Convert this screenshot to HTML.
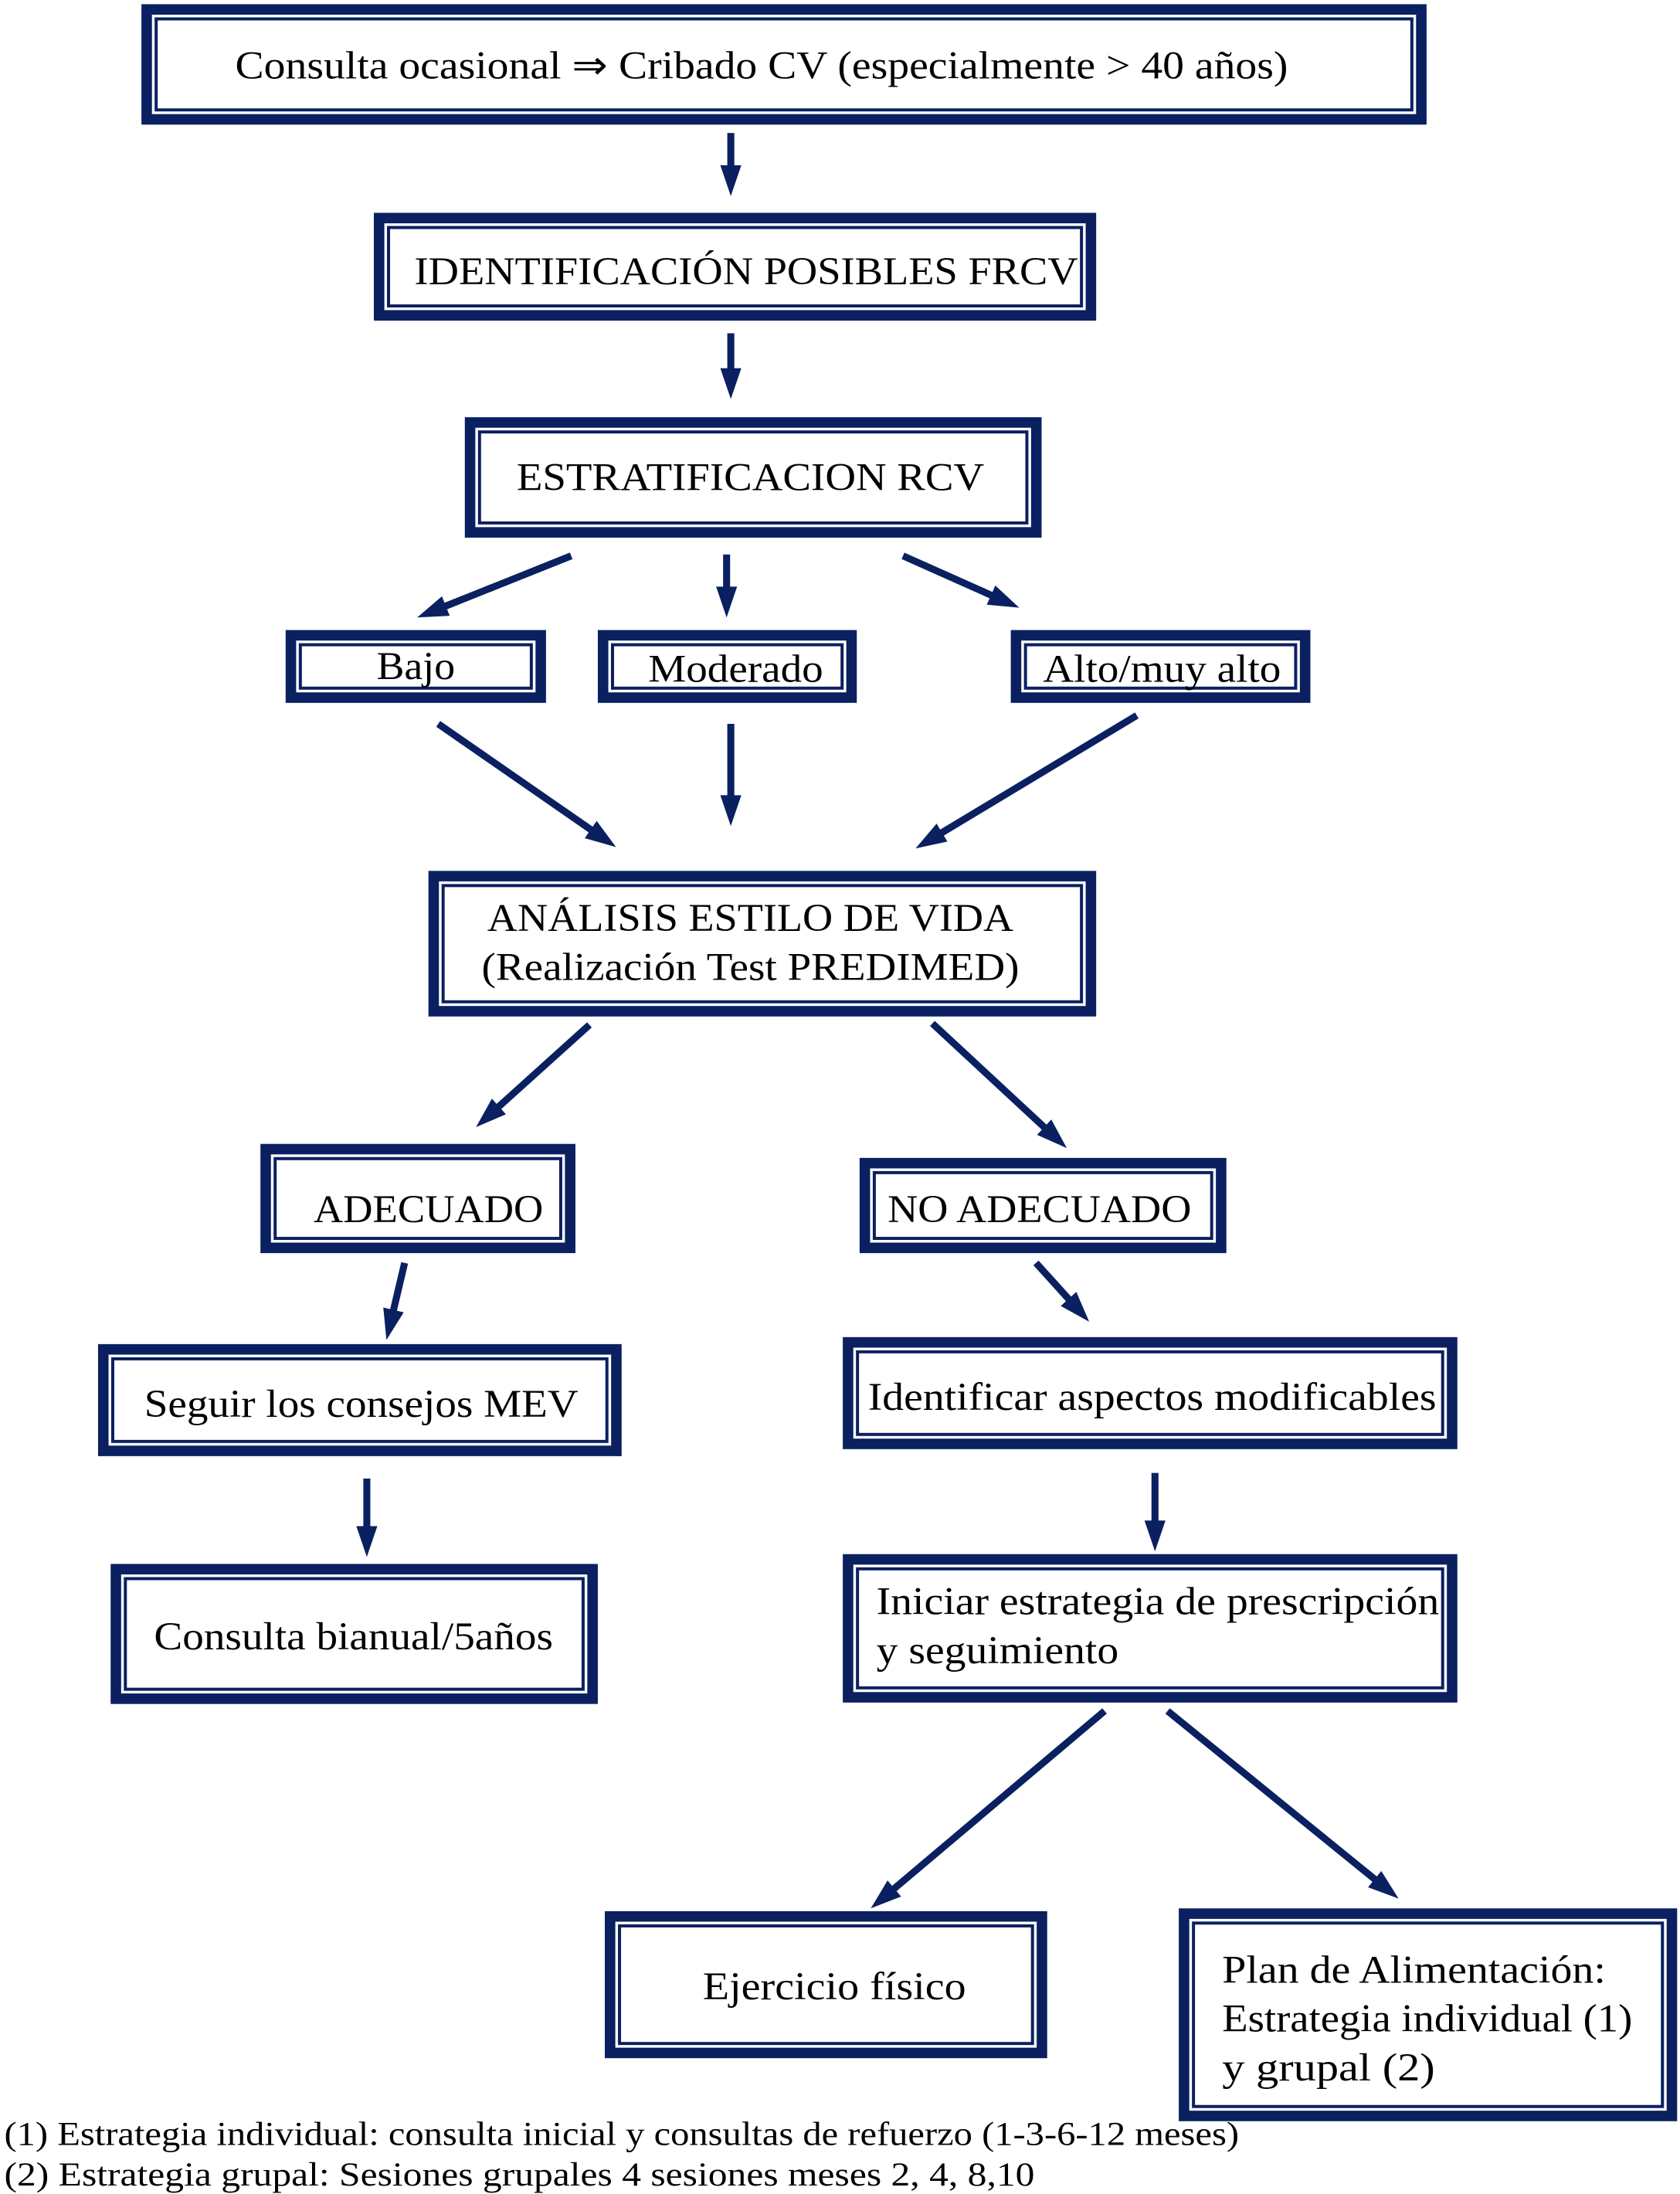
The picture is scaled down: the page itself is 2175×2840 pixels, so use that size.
<!DOCTYPE html>
<html><head><meta charset="utf-8"><style>
html,body{margin:0;padding:0;background:#fff;}
svg{display:block;}
text{font-family:"Liberation Serif","Times New Roman",serif;fill:#000;}
</style></head><body>
<svg id="s" xmlns="http://www.w3.org/2000/svg" width="2175" height="2840" viewBox="0 0 1200 1567">
<g id="boxes" fill="none" stroke="#0a2060"></g>
<g id="arrows"></g>
<g font-size="28" font-family="Liberation Serif, serif" lengthAdjust="spacingAndGlyphs">
<text x="168" y="56" textLength="752" lengthAdjust="spacingAndGlyphs">Consulta ocasional ⇒ Cribado CV (especialmente &gt; 40 años)</text>
<text x="296" y="203" textLength="474" lengthAdjust="spacingAndGlyphs">IDENTIFICACIÓN  POSIBLES FRCV</text>
<text x="369" y="350" textLength="334" lengthAdjust="spacingAndGlyphs">ESTRATIFICACION  RCV</text>
<text x="269" y="485" textLength="56" lengthAdjust="spacingAndGlyphs">Bajo</text>
<text x="463" y="487" textLength="125" lengthAdjust="spacingAndGlyphs">Moderado</text>
<text x="745" y="487" textLength="170" lengthAdjust="spacingAndGlyphs">Alto/muy alto</text>
<text x="348" y="665" textLength="376" lengthAdjust="spacingAndGlyphs">ANÁLISIS  ESTILO DE VIDA</text>
<text x="344" y="700" textLength="384" lengthAdjust="spacingAndGlyphs">(Realización Test PREDIMED)</text>
<text x="224" y="873" textLength="164" lengthAdjust="spacingAndGlyphs">ADECUADO</text>
<text x="634" y="873" textLength="217" lengthAdjust="spacingAndGlyphs">NO ADECUADO</text>
<text x="103" y="1012" textLength="310" lengthAdjust="spacingAndGlyphs">Seguir los consejos MEV</text>
<text x="620" y="1007" textLength="406" lengthAdjust="spacingAndGlyphs">Identificar aspectos modificables</text>
<text x="110" y="1178" textLength="285" lengthAdjust="spacingAndGlyphs">Consulta bianual/5años</text>
<text x="626" y="1153" textLength="402" lengthAdjust="spacingAndGlyphs">Iniciar estrategia de prescripción</text>
<text x="626" y="1188" textLength="173" lengthAdjust="spacingAndGlyphs">y seguimiento</text>
<text x="502" y="1428" textLength="188" lengthAdjust="spacingAndGlyphs">Ejercicio físico</text>
<text x="873" y="1416" textLength="274" lengthAdjust="spacingAndGlyphs">Plan de Alimentación:</text>
<text x="873" y="1451" textLength="293" lengthAdjust="spacingAndGlyphs">Estrategia individual (1)</text>
<text x="873" y="1486" textLength="152" lengthAdjust="spacingAndGlyphs">y  grupal (2)</text>
</g>
<g font-size="24" font-family="Liberation Serif, serif">
<text x="3" y="1532" textLength="882" lengthAdjust="spacingAndGlyphs">(1) Estrategia individual: consulta inicial y consultas de refuerzo (1-3-6-12 meses)</text>
<text x="3" y="1561" textLength="736" lengthAdjust="spacingAndGlyphs">(2) Estrategia grupal: Sesiones grupales 4 sesiones meses 2, 4, 8,10</text>
</g>
</svg>
<script>
var NS="http://www.w3.org/2000/svg",C="#0a2060";
var boxes=[[101,3,1019,89],[267,152,783,229],[332,298,744,384],[204,450,390,502],[427,450,612,502],[722,450,936,502],[306,622,783,726],[186,817,411,895],[614,827,876,895],[70,960,444,1040],[602,955,1041,1035],[79,1117,427,1217],[602,1110,1041,1216],[432,1365,748,1470],[842,1363,1198,1515]];
var bg=document.getElementById('boxes');
boxes.forEach(function(b){
 var r=document.createElementNS(NS,'rect');
 r.setAttribute('x',b[0]+3.75);r.setAttribute('y',b[1]+3.75);
 r.setAttribute('width',b[2]-b[0]-7.5);r.setAttribute('height',b[3]-b[1]-7.5);
 r.setAttribute('stroke-width',7.5);bg.appendChild(r);
 var q=document.createElementNS(NS,'rect');
 q.setAttribute('x',b[0]+10.5);q.setAttribute('y',b[1]+10.5);
 q.setAttribute('width',b[2]-b[0]-21);q.setAttribute('height',b[3]-b[1]-21);
 q.setAttribute('stroke-width',2.2);bg.appendChild(q);
});
var arrows=[[522,95,522,140],[522,238,522,285],[408,397,298,441],[519,396,519,441],[645,397,728,434],[313,517,440,605],[522,517,522,590],[812,511,654,606],[421,732,340,805],[666,731,762,820],[289,902,276,957],[740,902,778,944],[262,1056,262,1112],[825,1052,825,1108],[789,1222,622,1363],[834,1222,999,1356]];
var ag=document.getElementById('arrows');
arrows.forEach(function(a){
 var dx=a[2]-a[0],dy=a[3]-a[1],L=Math.sqrt(dx*dx+dy*dy),ux=dx/L,uy=dy/L,H=22,W=7.5;
 var bx=a[2]-ux*H,by=a[3]-uy*H;
 var l=document.createElementNS(NS,'line');
 l.setAttribute('x1',a[0]);l.setAttribute('y1',a[1]);l.setAttribute('x2',bx+ux*1);l.setAttribute('y2',by+uy*1);
 l.setAttribute('stroke',C);l.setAttribute('stroke-width',5);ag.appendChild(l);
 var p=document.createElementNS(NS,'polygon');
 p.setAttribute('points',a[2]+','+a[3]+' '+(bx-uy*W)+','+(by+ux*W)+' '+(bx+uy*W)+','+(by-ux*W));
 p.setAttribute('fill',C);ag.appendChild(p);
});
</script>
</body></html>
